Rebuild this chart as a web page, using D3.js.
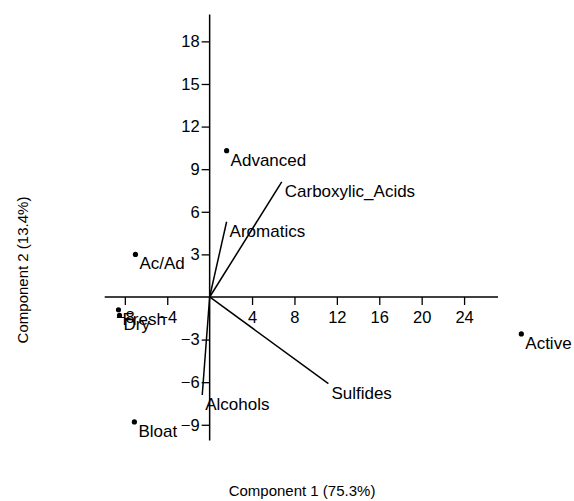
<!DOCTYPE html>
<html>
<head>
<meta charset="utf-8">
<script src="https://cdn.jsdelivr.net/npm/d3@7"></script>
<style>
  html, body { margin: 0; padding: 0; background: #fff; }
  svg { display: block; font-family: Arial, "Liberation Sans", Helvetica, sans-serif; }
</style>
</head>
<body>
<svg id="chart" width="574" height="501"></svg>
<script>
// ---- data ----
const sampleNames = ["Advanced", "Ac/Ad", "Fresh", "Dry", "Bloat", "Active"];
const sampleX = [1.6, -7.0, -8.6, -8.5, -7.1, 29.4];
const sampleY = [10.3, 3.0, -0.9, -1.3, -8.8, -2.6];

const loadingNames = ["Carboxylic_Acids", "Aromatics", "Sulfides", "Alcohols"];
const loadingX = [6.8, 1.6, 11.2, -0.7];
const loadingY = [8.1, 5.3, -6.1, -6.9];

const xTicks = [-8, -4, 4, 8, 12, 16, 20, 24];
const yTicks = [-9, -6, -3, 3, 6, 9, 12, 15, 18];
const xTitle = "Component 1 (75.3%)";
const yTitle = "Component 2 (13.4%)";

// ---- layout ----
const svg = d3.select("#chart");
const x = d3.scaleLinear().domain([-9.9, 27.2]).range([104.7, 498]);
const y = d3.scaleLinear().domain([-10.1, 19.9]).range([440.4, 14.4]);

const labelFont = 17;

// axes lines through origin
svg.append("line")
  .attr("x1", x(-9.9)).attr("x2", x(27.2))
  .attr("y1", y(0)).attr("y2", y(0))
  .attr("stroke", "#000").attr("stroke-width", 1.5);
svg.append("line")
  .attr("x1", x(0)).attr("x2", x(0))
  .attr("y1", y(19.9)).attr("y2", y(-10.1))
  .attr("stroke", "#000").attr("stroke-width", 1.5);

// x axis ticks
const gx = svg.append("g")
  .attr("transform", `translate(0,${y(0)})`)
  .call(d3.axisBottom(x).tickValues(xTicks).tickSize(8).tickSizeOuter(0).tickPadding(6).tickFormat(d3.format("d")));
gx.select(".domain").remove();
gx.selectAll("line").attr("stroke", "#000").attr("stroke-width", 1.3);
gx.selectAll("text").attr("font-size", 16.5).attr("fill", "#000")
  .attr("font-family", "Arial, 'Liberation Sans', sans-serif");

// y axis ticks
const gy = svg.append("g")
  .attr("transform", `translate(${x(0)},0)`)
  .call(d3.axisLeft(y).tickValues(yTicks).tickSize(8).tickSizeOuter(0).tickPadding(2).tickFormat(d3.format("d")));
gy.select(".domain").remove();
gy.selectAll("line").attr("stroke", "#000").attr("stroke-width", 1.3);
gy.selectAll("text").attr("font-size", 16.5).attr("fill", "#000")
  .attr("font-family", "Arial, 'Liberation Sans', sans-serif");

// loading vectors
const loadings = loadingNames.map((n, i) => ({ name: n, x: loadingX[i], y: loadingY[i] }));
svg.append("g").selectAll("line").data(loadings).join("line")
  .attr("x1", x(0)).attr("y1", y(0))
  .attr("x2", d => x(d.x)).attr("y2", d => y(d.y))
  .attr("stroke", "#000").attr("stroke-width", 1.5);
svg.append("g").selectAll("text").data(loadings).join("text")
  .attr("x", d => x(d.x) + 3)
  .attr("y", d => y(d.y) + 15)
  .attr("font-size", labelFont)
  .attr("fill", "#000")
  .text(d => d.name);

// sample points
const samples = sampleNames.map((n, i) => ({ name: n, x: sampleX[i], y: sampleY[i] }));
svg.append("g").selectAll("circle").data(samples).join("circle")
  .attr("cx", d => x(d.x)).attr("cy", d => y(d.y))
  .attr("r", 2.6).attr("fill", "#000");
svg.append("g").selectAll("text").data(samples).join("text")
  .attr("x", d => x(d.x) + 4)
  .attr("y", d => y(d.y) + 15)
  .attr("font-size", labelFont)
  .attr("fill", "#000")
  .text(d => d.name);

// axis titles
svg.append("text")
  .attr("x", 302).attr("y", 496)
  .attr("text-anchor", "middle")
  .attr("font-size", 15)
  .attr("fill", "#000")
  .text(xTitle);
svg.append("text")
  .attr("transform", "translate(28,270) rotate(-90)")
  .attr("text-anchor", "middle")
  .attr("font-size", 15)
  .attr("fill", "#000")
  .text(yTitle);
</script>
</body>
</html>
